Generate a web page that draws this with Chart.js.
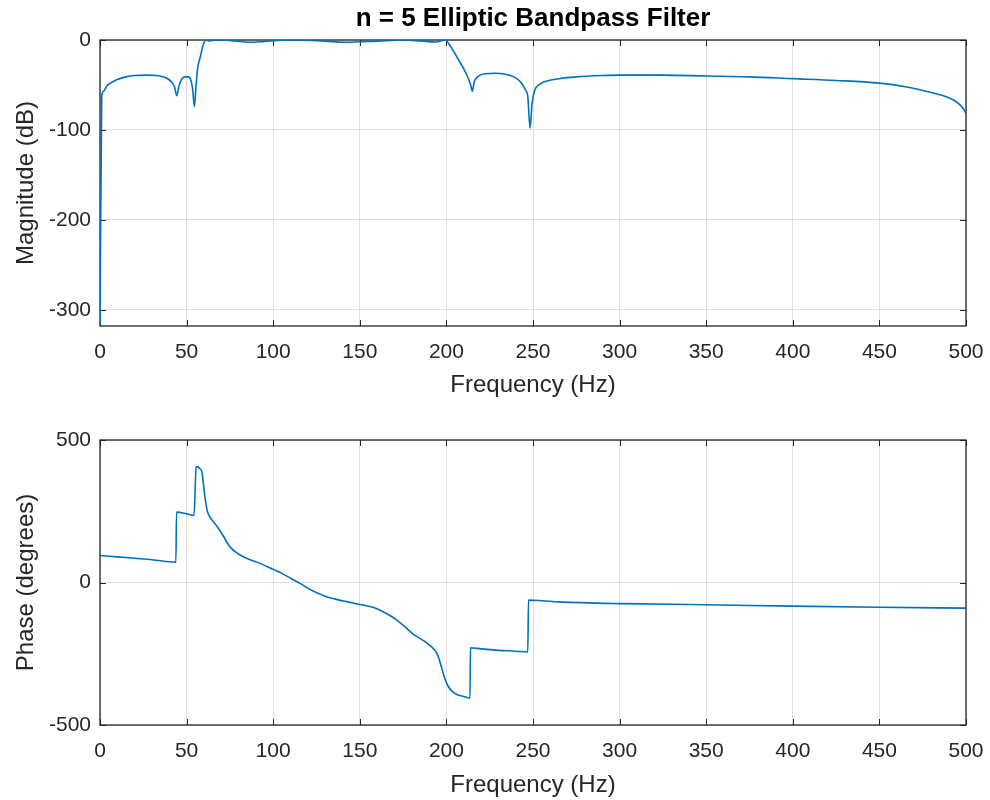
<!DOCTYPE html>
<html>
<head>
<meta charset="utf-8">
<script src="https://cdn.jsdelivr.net/npm/chart.js@4/dist/chart.umd.min.js"></script>
<style>
  html, body { margin: 0; padding: 0; background: #ffffff; }
  #wrap { position: relative; width: 990px; height: 800px; }
  .box { position: absolute; left: 0; width: 990px; height: 400px; }
</style>
</head>
<body>
<div id="wrap">
  <div class="box" style="top:0"><canvas id="mag"></canvas></div>
  <div class="box" style="top:400px"><canvas id="ph"></canvas></div>
</div>
<script>
// ---------------- data ----------------
const chartTitle = 'n = 5 Elliptic Bandpass Filter';
const xLabel = 'Frequency (Hz)';
const magLabel = 'Magnitude (dB)';
const phLabel = 'Phase (degrees)';

const xTicks = [0, 50, 100, 150, 200, 250, 300, 350, 400, 450, 500];
const magTicks = [-300, -200, -100, 0];
const phTicks = [-500, 0, 500];

const magFreq = [0, 1, 2, 4, 6, 10, 15, 20, 27, 33, 38, 41, 43, 44.3, 45.5, 47, 49, 51, 52.5, 53.5, 54.5, 55.5, 56.5, 58, 59.5, 61,
  63, 66, 71, 78, 86, 95, 105, 113, 125, 142, 160, 175, 185, 194, 199.5,
  201, 204, 207, 210, 212.5, 214, 215, 216, 218, 222, 228, 234, 239, 243, 245.5, 247, 248.3, 249.5, 251, 254, 258, 265, 275, 290,
  300, 325, 350, 375, 400, 425, 450, 465, 477, 487, 493, 497, 499, 500];
const magDb = [-317, -62, -57, -51, -48, -44, -41, -39.5, -39, -39.5, -42, -46, -52, -62, -52, -44, -41, -41, -45, -55, -74, -50, -30, -18, -6, 0,
  -1, -0.3, 0, -1, -2.5, -1.5, -0.3, 0, -0.8, -2.5, -1.2, 0, -1, -2.2, 0,
  -3, -12, -22, -32, -42, -50, -57, -47, -41, -37.5, -37, -38, -41, -47, -55, -63, -98, -70, -56, -49, -45.5, -43, -41, -39.5,
  -39, -39, -40, -41, -43, -45, -48, -52, -57, -62, -67, -73, -78, -82];

const phFreq = [0, 10, 20, 30, 43.8, 44.2, 50, 54.3, 55.5, 56.5, 57.5, 58.7, 60, 60.6, 62, 64, 67.4, 71, 75, 80, 86.6, 92,
  100, 105, 110, 116, 123, 130, 137, 143, 150, 158, 167.4, 171, 176, 181, 187, 192.5, 195, 197, 199, 201, 203.5, 206, 210, 213.6,
  213.9, 220, 230, 240, 247, 247.4, 255, 265, 300, 350, 400, 450, 500];
const phDeg = [95, 90, 85, 80, 71, 247, 241, 235, 405, 407, 400, 391, 330, 300, 250, 225, 198, 165, 125, 100, 80, 68,
  46, 32, 15, -5, -30, -48, -60, -68, -77, -88, -116, -130, -155, -182, -205, -232, -255, -294, -335, -364, -383, -393, -400, -405,
  -229, -233, -238, -241, -244, -62, -64, -68, -74, -78, -83, -87, -90];

// ---------------- style ----------------
const FONT = '"Liberation Sans", Arial, Helvetica, sans-serif';
const AXIS = '#262626';
const GRID = '#dfdfdf';
const LINE = '#0072BD';

const toXY = (xs, ys) => xs.map((x, i) => ({ x: x, y: ys[i] }));

const boxPlugin = {
  id: 'matlabBox',
  beforeDatasetsDraw(chart) {
    const { ctx, chartArea: a, scales } = chart;
    ctx.save();
    ctx.strokeStyle = AXIS;
    ctx.lineWidth = 1;
    ctx.beginPath();
    const tl = 6;
    scales.x.ticks.forEach(t => {
      const px = Math.round(scales.x.getPixelForValue(t.value)) + 0.5;
      ctx.moveTo(px, a.bottom); ctx.lineTo(px, a.bottom - tl);
      ctx.moveTo(px, a.top); ctx.lineTo(px, a.top + tl);
    });
    scales.y.ticks.forEach(t => {
      const py = Math.round(scales.y.getPixelForValue(t.value)) + 0.5;
      ctx.moveTo(a.left, py); ctx.lineTo(a.left + tl, py);
      ctx.moveTo(a.right, py); ctx.lineTo(a.right - tl, py);
    });
    ctx.stroke();
    ctx.lineWidth = 1.3;
    ctx.strokeRect(a.left, a.top, a.right - a.left, a.bottom - a.top);
    ctx.restore();
  },
  afterDraw(chart, args, opts) {
    if (!opts.text) return;
    const { ctx, chartArea: a } = chart;
    ctx.save();
    ctx.fillStyle = '#000000';
    ctx.font = 'bold 26px ' + FONT;
    ctx.textAlign = 'center';
    ctx.textBaseline = 'middle';
    ctx.fillText(opts.text, (a.left + a.right) / 2, 19);
    ctx.restore();
  }
};

function makeChart(id, xs, ys, yMin, yMax, yTicks, yLabel, titleText, padTop, xAxisHeight) {
  return new Chart(document.getElementById(id), {
    type: 'line',
    data: {
      datasets: [{
        data: toXY(xs, ys),
        borderColor: LINE,
        borderWidth: 1.6,
        pointRadius: 0,
        fill: false,
        cubicInterpolationMode: 'monotone'
      }]
    },
    options: {
      responsive: true,
      maintainAspectRatio: false,
      animation: false,
      layout: { padding: { top: padTop, right: 24, left: 0, bottom: 0 } },
      plugins: {
        legend: { display: false },
        tooltip: { enabled: false },
        matlabBox: { text: titleText }
      },
      scales: {
        x: {
          type: 'linear',
          min: 0, max: 500,
          afterBuildTicks: s => { s.ticks = xTicks.map(v => ({ value: v })); },
          afterFit: s => { s.height = xAxisHeight; s.paddingLeft = 0; s.paddingRight = 0; },
          grid: { color: GRID, drawTicks: false, lineWidth: 1 },
          border: { display: false },
          ticks: { color: AXIS, font: { family: FONT, size: 21 }, padding: 14, maxRotation: 0 },
          title: { display: true, text: xLabel, color: AXIS, font: { family: FONT, size: 24 }, padding: 0 }
        },
        y: {
          type: 'linear',
          min: yMin, max: yMax,
          afterBuildTicks: s => { s.ticks = yTicks.map(v => ({ value: v })); },
          afterFit: s => { s.width = 100; s.paddingTop = 0; s.paddingBottom = 0; },
          grid: { color: GRID, drawTicks: false, lineWidth: 1 },
          border: { display: false },
          ticks: { color: AXIS, font: { family: FONT, size: 21 }, padding: 9 },
          title: { display: true, text: yLabel, color: AXIS, font: { family: FONT, size: 24 }, padding: 12 }
        }
      }
    },
    plugins: [boxPlugin]
  });
}

makeChart('mag', magFreq, magDb, -318, 0, magTicks, magLabel, chartTitle, 40, 74);
makeChart('ph', phFreq, phDeg, -500, 500, phTicks, phLabel, '', 40, 75);
</script>
</body>
</html>
